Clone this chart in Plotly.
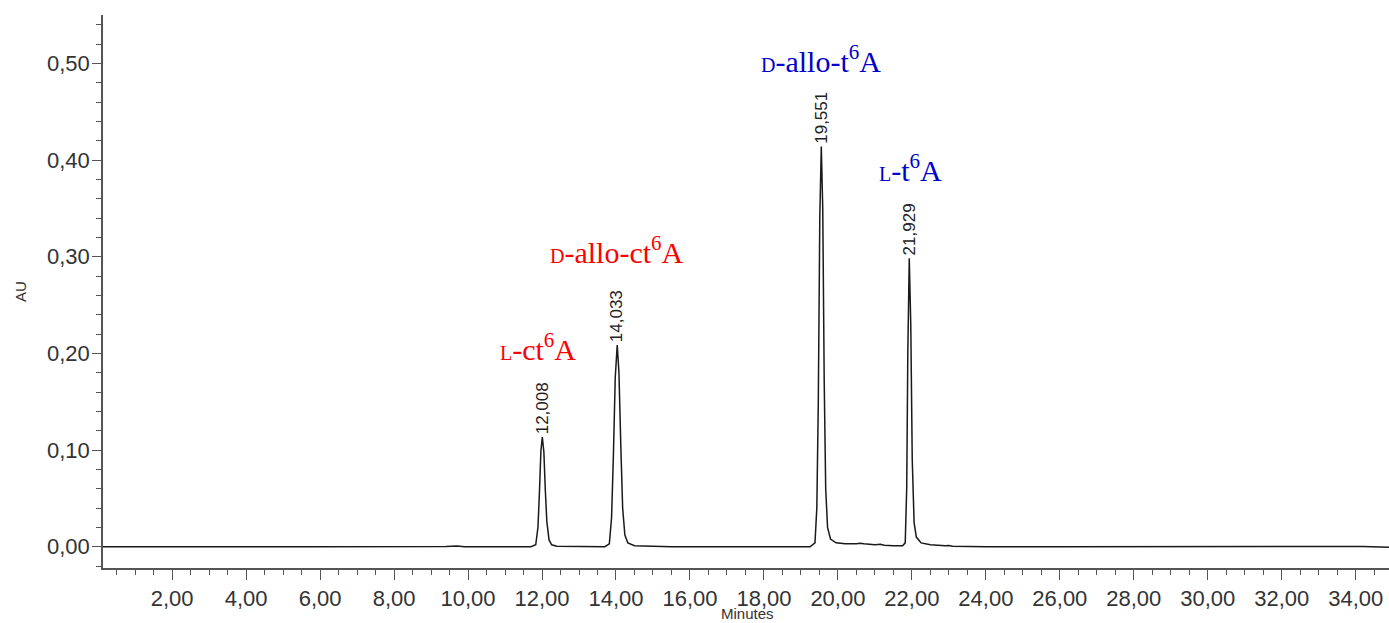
import plotly.graph_objects as go

# Chromatogram trace (minutes, AU)
time_min = [
    0.13, 1.00, 2.00, 3.40, 4.50, 5.80, 7.00, 8.30, 9.40, 9.70, 9.90, 11.00, 11.70,
    11.83, 11.89, 11.93, 11.97, 12.008, 12.05, 12.09, 12.13, 12.19, 12.26, 12.40,
    13.00, 13.70, 13.82, 13.88, 13.93, 13.98, 14.033, 14.08, 14.13, 14.18, 14.24, 14.32, 14.50,
    15.50, 17.00, 18.50, 19.25, 19.38, 19.43, 19.47, 19.51, 19.551, 19.59, 19.63, 19.67, 19.72,
    19.80, 19.95, 20.20, 20.50, 20.60, 20.70, 21.00, 21.15, 21.25, 21.50, 21.75,
    21.82, 21.86, 21.89, 21.929, 21.97, 22.01, 22.06, 22.12, 22.25, 22.50, 22.90, 23.00, 23.10,
    24.00, 26.00, 28.00, 30.00, 32.00, 33.50, 34.20, 34.90,
]
absorbance = [
    0.0000, -0.0001, 0.0000, 0.0002, 0.0000, 0.0001, -0.0001, -0.0001, 0.0002, 0.0007, 0.0001, 0.0000, 0.0000,
    0.0020, 0.0200, 0.0560, 0.0990, 0.1135, 0.0980, 0.0580, 0.0260, 0.0070, 0.0020, 0.0005,
    0.0000, 0.0000, 0.0030, 0.0300, 0.0950, 0.1750, 0.2087, 0.1800, 0.1050, 0.0400, 0.0120, 0.0040, 0.0010,
    0.0000, 0.0000, 0.0000, 0.0000, 0.0040, 0.0400, 0.1500, 0.3400, 0.4140, 0.3500, 0.1700, 0.0600, 0.0200,
    0.0080, 0.0040, 0.0030, 0.0030, 0.0035, 0.0030, 0.0020, 0.0025, 0.0015, 0.0010, 0.0010,
    0.0040, 0.0600, 0.2000, 0.2985, 0.2300, 0.0900, 0.0250, 0.0100, 0.0040, 0.0020, 0.0010, 0.0012, 0.0005,
    0.0000, 0.0000, 0.0000, 0.0003, 0.0004, 0.0004, 0.0002, -0.0006,
]

peak_times = [12.008, 14.033, 19.551, 21.929]
peak_heights = [0.1135, 0.2087, 0.4140, 0.2985]
peak_labels = ["12,008", "14,033", "19,551", "21,929"]

compound_sc = ["L", "D", "D", "L"]
compound_rest = ["-ct<sup>6</sup>A", "-allo-ct<sup>6</sup>A", "-allo-t<sup>6</sup>A", "-t<sup>6</sup>A"]
compound_x = [11.88, 14.02, 19.53, 21.96]
compound_y = [0.207, 0.307, 0.504, 0.392]
compound_color = ["#FF0000", "#FF0000", "#0000CC", "#0000CC"]

fig = go.Figure()
fig.add_trace(go.Scatter(
    x=time_min, y=absorbance, mode="lines",
    line=dict(color="#1a1a1a", width=1.5),
    hoverinfo="x+y", showlegend=False,
))

annotations = []
for t, h, lab in zip(peak_times, peak_heights, peak_labels):
    annotations.append(dict(
        x=t, y=h, xref="x", yref="y", text=lab, showarrow=False,
        textangle=-90, xanchor="center", yanchor="bottom", yshift=1,
        font=dict(family="Liberation Sans, Arial", size=17, color="#222222"),
    ))
for sc, rest, x, y, c in zip(compound_sc, compound_rest, compound_x, compound_y, compound_color):
    annotations.append(dict(
        x=x, y=y, xref="x", yref="y", showarrow=False,
        text=f"<span style='font-size:20px'>{sc}</span>{rest}",
        xanchor="center", yanchor="middle",
        font=dict(family="Liberation Serif, Times New Roman", size=30, color=c),
    ))
annotations.append(dict(
    x=-0.0645, y=0.499, xref="paper", yref="paper", text="AU", showarrow=False,
    textangle=-90, xanchor="center", yanchor="middle",
    font=dict(family="Liberation Sans, Arial", size=15, color="#333333"),
))
annotations.append(dict(
    x=0.501, y=-0.083, xref="paper", yref="paper", text="Minutes", showarrow=False,
    xanchor="center", yanchor="middle",
    font=dict(family="Liberation Sans, Arial", size=15, color="#333333"),
))

fig.update_layout(
    width=1389, height=623,
    margin=dict(l=103, r=0, t=15, b=55),
    paper_bgcolor="white", plot_bgcolor="white",
    separators=",.",
    annotations=annotations,
    font=dict(family="Liberation Sans, Arial", color="#333333"),
)
fig.update_xaxes(
    range=[0.13, 34.9], showgrid=False, zeroline=False,
    showline=True, linecolor="#555555", linewidth=1.5,
    tickmode="linear", tick0=0, dtick=2, tickformat=".2f",
    ticks="outside", ticklen=10, tickwidth=1.2, tickcolor="#555555",
    tickfont=dict(size=22, color="#333333"),
    minor=dict(dtick=0.5, tick0=0, ticks="outside", ticklen=5, tickwidth=1, tickcolor="#555555"),
)
fig.update_yaxes(
    range=[-0.022, 0.55], showgrid=False, zeroline=False,
    showline=True, linecolor="#555555", linewidth=1.5,
    tickmode="linear", tick0=0, dtick=0.1, tickformat=".2f",
    ticks="outside", ticklen=9, tickwidth=1.2, tickcolor="#555555",
    ticklabelstandoff=-2,
    tickfont=dict(size=22, color="#333333"),
    minor=dict(dtick=0.02, tick0=0, ticks="outside", ticklen=5, tickwidth=1, tickcolor="#555555"),
)

fig.write_html("out.html")
